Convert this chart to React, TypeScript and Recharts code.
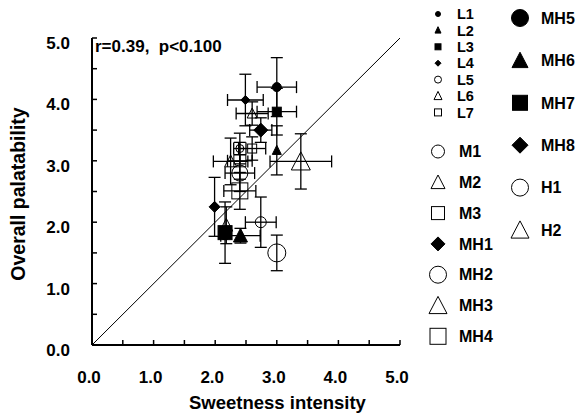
import React from "react";
import {
  ErrorBar,
  ReferenceLine,
  Scatter,
  ScatterChart,
  XAxis,
  YAxis,
} from "recharts";

// series, in legend order
const names = [
  "L1", "L2", "L3", "L4", "L5", "L6", "L7",
  "M1", "M2", "M3",
  "MH1", "MH2", "MH3", "MH4", "MH5", "MH6", "MH7", "MH8",
  "H1", "H2",
];
const sweetness = [
  3.0, 3.0, 3.0, 2.49, 2.4, 2.6, 2.6,
  2.74, 2.25, 2.4,
  1.99, 2.4, 2.18, 2.4, 2.16, 2.41, 2.16, 2.74,
  3.0, 3.39,
];
const palatability = [
  4.2, 3.17, 3.8, 3.99, 3.2, 3.77, 3.2,
  2.0, 2.99, 3.0,
  2.25, 2.8, 1.95, 2.51, 1.82, 1.78, 1.83, 3.5,
  1.5, 2.99,
];
const sweetnessErr = [
  0.32, 0, 0.32, 0.29, 0.1, 0.26, 0.22,
  0.25, 0.28, 0.2,
  0, 0.24, 0, 0.26, 0, 0.32, 0.05, 0.18,
  0, 0.5,
];
const palatabilityErr = [
  0.48, 0.4, 0.38, 0.42, 0.25, 0.19, 0.19,
  0.41, 0.38, 0.3,
  0.48, 0.3, 0.3, 0.3, 0, 0.12, 0.5, 0.2,
  0.29, 0.45,
];
const shapes = [
  "circle", "triangle", "square", "diamond", "circle", "triangle", "square",
  "circle", "triangle", "square",
  "diamond", "circle", "triangle", "square", "circle", "triangle", "square", "diamond",
  "circle", "triangle",
];
const filled = [
  true, true, true, true, false, false, false,
  false, false, false,
  true, false, false, false, true, true, true, true,
  false, false,
];
const axisTicks = [0, 0.5, 1, 1.5, 2, 2.5, 3, 3.5, 4, 4.5, 5];

// marker sizes (plot / legend)
const plotSize = [9, 9, 9, 9, 8, 10, 9, 11, 12, 12, 11, 16, 13, 16, 13, 14, 14, 14, 18, 19];
const legendSize = [5, 6, 6, 6, 7, 8, 7, 13, 14, 13, 14, 17, 18, 16, 17, 16, 15, 16, 17, 18];

const font = "'Liberation Sans', Arial, sans-serif";

function Marker({ cx, cy, kind, size, solid }: { cx: number; cy: number; kind: string; size: number; solid: boolean }) {
  const h = size / 2;
  const fill = solid ? "#000" : "none";
  const common = { fill, stroke: "#000", strokeWidth: 1 };
  if (kind === "circle") return <circle cx={cx} cy={cy} r={h} {...common} />;
  if (kind === "square") return <rect x={cx - h} y={cy - h} width={size} height={size} {...common} />;
  if (kind === "diamond")
    return <polygon points={`${cx},${cy - h} ${cx + h},${cy} ${cx},${cy + h} ${cx - h},${cy}`} {...common} />;
  const th = size * 0.9;
  return (
    <polygon
      points={`${cx},${cy - th / 2 - 1} ${cx + h},${cy + th / 2} ${cx - h},${cy + th / 2}`}
      {...common}
    />
  );
}

function legendPos(i: number) {
  if (i < 7) return { x: 438, y: 14 + i * 16.4, tx: 457, fs: 14.5 };
  if (i < 14) return { x: 438, y: 151.5 + (i - 7) * 30.8, tx: 459, fs: 16 };
  return { x: 520, y: 18 + (i - 14) * 42.4, tx: 541, fs: 16 };
}

export default function App() {
  return (
    <div style={{ position: "absolute", left: 0, top: 0, width: 583, height: 416, background: "#fff" }}>
      <ScatterChart width={583} height={416} margin={{ top: 38, right: 183, bottom: 0, left: 0 }}>
        <XAxis
          type="number"
          dataKey="x"
          domain={[0, 5]}
          ticks={axisTicks}
          interval={0}
          allowDataOverflow
          height={71}
          tickSize={-5}
          tickMargin={31}
          tickFormatter={(v: number) => (Number.isInteger(v) ? v.toFixed(1) : "")}
          tick={{ fill: "#000", fontSize: 17, fontWeight: 700, fontFamily: font, dx: -3 }}
          axisLine={{ stroke: "#000", strokeWidth: 2 }}
          tickLine={{ stroke: "#000", strokeWidth: 1.5 }}
        />
        <YAxis
          type="number"
          dataKey="y"
          domain={[0, 5]}
          ticks={axisTicks}
          interval={0}
          allowDataOverflow
          width={92}
          tickSize={-5}
          tickMargin={27}
          tickFormatter={(v: number) => (Number.isInteger(v) ? v.toFixed(1) : "")}
          tick={{ fill: "#000", fontSize: 17, fontWeight: 700, fontFamily: font, dy: 5 }}
          axisLine={{ stroke: "#000", strokeWidth: 2 }}
          tickLine={{ stroke: "#000", strokeWidth: 1.5 }}
        />
        <ReferenceLine
          segment={[{ x: 0, y: 0 }, { x: 5, y: 5 }]}
          stroke="#000"
          strokeWidth={1}
          ifOverflow="visible"
        />
        {names.map((name, i) => (
          <Scatter
            key={name}
            name={name}
            data={[{ x: sweetness[i], y: palatability[i], ex: sweetnessErr[i], ey: palatabilityErr[i] }]}
            isAnimationActive={false}
            shape={(p: any) => (
              <Marker cx={p.cx} cy={p.cy} kind={shapes[i]} size={plotSize[i]} solid={filled[i]} />
            )}
          >
            {sweetnessErr[i] > 0 && (
              <ErrorBar dataKey="ex" direction="x" width={6} stroke="#000" strokeWidth={1.3} />
            )}
            {palatabilityErr[i] > 0 && (
              <ErrorBar dataKey="ey" direction="y" width={6} stroke="#000" strokeWidth={1.3} />
            )}
          </Scatter>
        ))}
      </ScatterChart>
      <svg
        width={583}
        height={416}
        style={{ position: "absolute", left: 0, top: 0, pointerEvents: "none" }}
        fontFamily={font}
        fontWeight={700}
      >
        <text x={95} y={52} fontSize={17}>r=0.39,&#160;&#160;p&lt;0.100</text>
        <text x={189} y={409} fontSize={18.5}>Sweetness intensity</text>
        <text transform="translate(25,194) rotate(-90)" textAnchor="middle" fontSize={19.5}>
          Overall palatability
        </text>
        {names.map((name, i) => {
          const lp = legendPos(i);
          return (
            <g key={name}>
              <Marker cx={lp.x} cy={lp.y} kind={shapes[i]} size={legendSize[i]} solid={filled[i]} />
              <text x={lp.tx} y={lp.y} dy="0.36em" fontSize={lp.fs}>{name}</text>
            </g>
          );
        })}
      </svg>
    </div>
  );
}
